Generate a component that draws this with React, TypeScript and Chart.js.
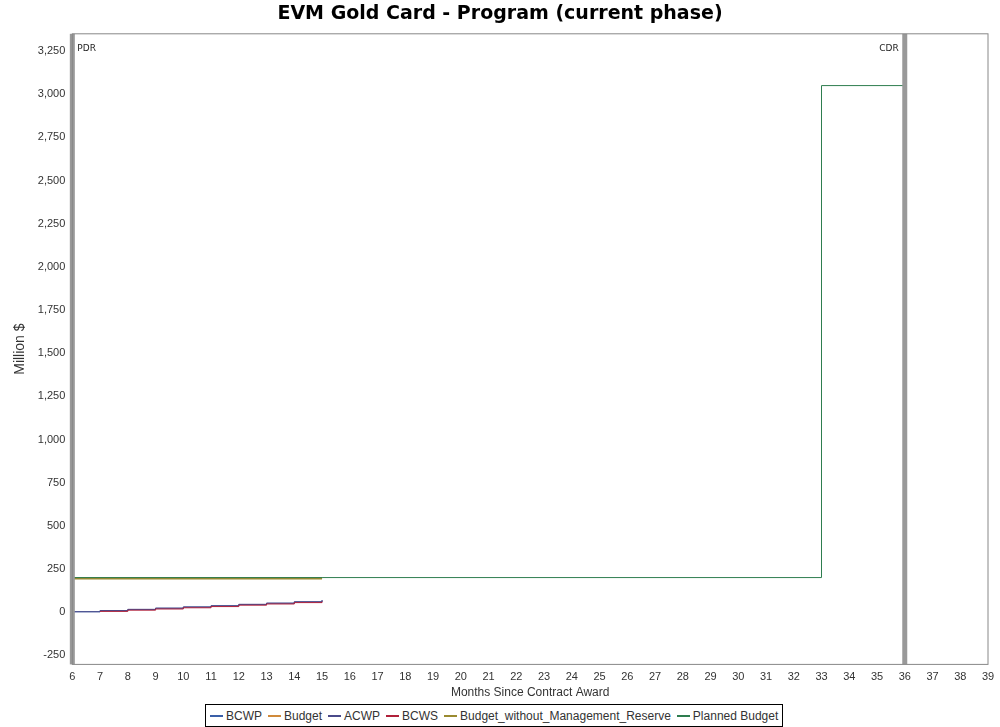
import React, { useEffect, useRef } from "react";
import { Chart, registerables } from "chart.js";
Chart.register(...registerables);

const evMonths = [6, 7, 8, 9, 10, 11, 12, 13, 14, 15];
const bcwp = [2, 8, 15, 22, 29, 36, 44, 51, 59, 68];
const acwp = [2, 9, 16, 23, 30, 37, 45, 52, 60, 70];
const bcwsMonths = [7, 8, 9, 10, 11, 12, 13, 14, 15];
const bcws = [4, 11, 18, 25, 32, 40, 47, 55, 62];
const budgetMonths = [6, 15];
const budget = [197, 197];
const budgetNoMR = [195, 195];
const plannedMonths = [6, 15, 33, 36];
const planned = [200, 200, 3050, 3050];
const milestones = [{ m: 6, label: "PDR" }, { m: 36, label: "CDR" }];
const yTicks = [-250, 0, 250, 500, 750, 1000, 1250, 1500, 1750, 2000, 2250, 2500, 2750, 3000, 3250];

const series = [
  { label: "BCWP", color: "#3a5fa8", xs: evMonths, ys: bcwp },
  { label: "Budget", color: "#d08a3a", xs: budgetMonths, ys: budget },
  { label: "ACWP", color: "#4a4a8a", xs: evMonths, ys: acwp },
  { label: "BCWS", color: "#b0203a", xs: bcwsMonths, ys: bcws },
  { label: "Budget_without_Management_Reserve", color: "#9a8a30", xs: budgetMonths, ys: budgetNoMR },
  { label: "Planned Budget", color: "#2e7d4f", xs: plannedMonths, ys: planned },
];

const msPlugin = {
  id: "ms",
  afterDatasetsDraw(chart: any) {
    const { ctx, chartArea, scales } = chart;
    ctx.save();
    milestones.forEach((m) => {
      const x = scales.x.getPixelForValue(m.m);
      ctx.fillStyle = "#999";
      ctx.fillRect(x - 2.5, chartArea.top, 5, chartArea.bottom - chartArea.top);
      ctx.fillStyle = "#222";
      ctx.font = "9px 'DejaVu Sans'";
      ctx.textAlign = m.m === 6 ? "left" : "right";
      ctx.fillText(m.label, m.m === 6 ? x + 5 : x - 6, chartArea.top + 17);
    });
    ctx.strokeStyle = "#888";
    ctx.lineWidth = 1;
    ctx.strokeRect(chartArea.left, chartArea.top, chartArea.right - chartArea.left, chartArea.bottom - chartArea.top);
    ctx.restore();
  },
};

const tickFont = { family: "'Liberation Sans', Arial", size: 11 };

export default function App() {
  const ref = useRef<HTMLCanvasElement>(null);
  useEffect(() => {
    const chart = new Chart(ref.current!, {
      type: "line",
      data: {
        datasets: [...series].reverse().map((s) => ({
          label: s.label,
          data: s.xs.map((x, i) => ({ x, y: s.ys[i] })),
          borderColor: s.color,
          backgroundColor: s.color,
          borderWidth: s.label.startsWith("Budget") ? 2 : 1,
          pointRadius: 0,
          stepped: "before" as const,
        })),
      },
      options: {
        animation: false,
        responsive: false,
        layout: { padding: { left: 12, right: 12, top: 0, bottom: 0 } },
        plugins: {
          legend: { display: false },
          tooltip: { enabled: false },
          title: {
            display: true,
            text: "EVM Gold Card - Program (current phase)",
            font: { family: "'DejaVu Sans'", size: 19, weight: "bold" },
            color: "#000",
            padding: { top: 3, bottom: 8 },
          },
        },
        scales: {
          x: {
            type: "linear",
            min: 6,
            max: 39,
            afterBuildTicks: (ax: any) => {
              ax.ticks = Array.from({ length: 34 }, (_, i) => ({ value: 6 + i }));
            },
            grid: { display: false, drawTicks: true, tickLength: 4 },
            border: { display: false },
            ticks: { color: "#333", font: tickFont, maxRotation: 0, autoSkip: false, padding: 2 },
            title: { display: true, text: "Months Since Contract Award", color: "#333", font: { family: "'Liberation Sans', Arial", size: 12 }, padding: { top: 0, bottom: 0 } },
          },
          y: {
            min: -303,
            max: 3350,
            afterBuildTicks: (ax: any) => {
              ax.ticks = yTicks.map((v) => ({ value: v }));
            },
            grid: { display: false, drawTicks: true, tickLength: 4 },
            border: { display: false },
            ticks: { color: "#333", font: tickFont, padding: 3, callback: (v: any) => Number(v).toLocaleString("en-US") },
            title: { display: true, text: "Million $", color: "#333", font: { family: "'Liberation Sans', Arial", size: 14 }, padding: { top: 0, bottom: 6 } },
          },
        },
      },
      plugins: [msPlugin],
    } as any);
    return () => chart.destroy();
  }, []);
  return (
    <div style={{ position: "fixed", left: 0, top: 0, width: 1000, height: 727, background: "#fff" }}>
      <canvas ref={ref} width={1000} height={700} style={{ display: "block" }} />
      <div
        style={{
          position: "absolute", left: 205, top: 704, height: 21, border: "1px solid #000",
          display: "flex", alignItems: "center", gap: 6, padding: "0 4px",
          fontFamily: "'Liberation Sans', Arial", fontSize: 12, color: "#333", whiteSpace: "nowrap",
        }}
      >
        {series.map((s) => (
          <span key={s.label} style={{ display: "flex", alignItems: "center", gap: 3 }}>
            <span style={{ display: "inline-block", width: 13, height: 2, background: s.color }} />
            {s.label}
          </span>
        ))}
      </div>
    </div>
  );
}
